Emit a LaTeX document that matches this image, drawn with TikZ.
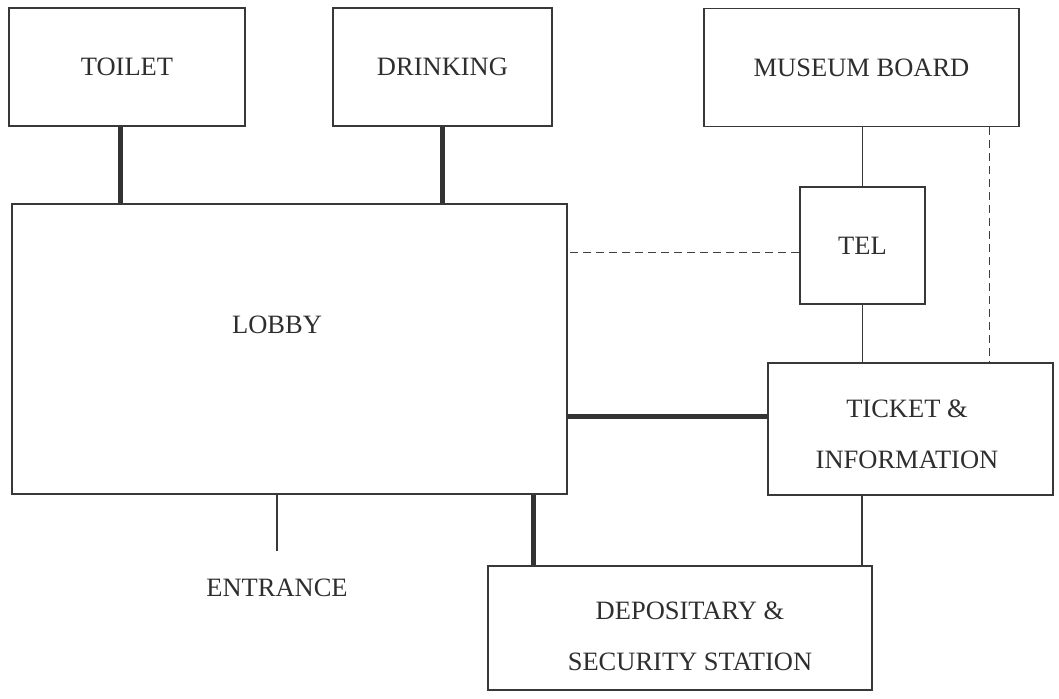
\documentclass[tikz,border=0pt]{standalone}
\usepackage{fontspec}
\setmainfont{Liberation Serif}
\begin{document}
\begin{tikzpicture}[x=1pt,y=-1pt,
  room/.style={draw=black!78, line width=1.1pt, fill=white, inner sep=0pt,
    text=black!82, align=center, font=\fontsize{26.5}{52}\selectfont},
  thin/.style={draw=black!78, line width=1.1pt},
  heavy/.style={draw=black!80, line width=5pt},
  dashline/.style={draw=black!75, line width=1pt, dash pattern=on 8pt off 5pt},
  caption/.style={text=black!82, inner sep=0pt, align=center,
    font=\fontsize{26.5}{51}\selectfont}]
\useasboundingbox (0,0) rectangle (1059,698);

% rooms
\node[room, minimum width=236pt, minimum height=118pt] (toilet)   at (127,67)    {TOILET};
\node[room, minimum width=219pt, minimum height=118pt] (drinking) at (442.5,67)  {DRINKING};
\node[room, minimum width=315pt, minimum height=118pt] (board)    at (861.5,67.5){MUSEUM BOARD};
\node[room, minimum width=125pt, minimum height=117pt] (tel)      at (862.5,245.5){TEL};
\node[room, minimum width=555pt, minimum height=290pt] (lobby)    at (289.5,349) {};
\node[room, minimum width=285pt, minimum height=132pt] (ticket)   at (910.5,429) {};
\node[room, minimum width=384pt, minimum height=124pt] (depot)    at (680,628)   {};

% labels
\node[caption] (lobbytext)  at (277,325) {LOBBY};
\node[caption] (tickettext) at (907,434) {TICKET \&\\INFORMATION};
\node[caption] (depottext)  at (690,636) {DEPOSITARY \&\\SECURITY STATION};
\node[caption] (entrance)   at (277,588) {ENTRANCE};

% attachment points
\coordinate (tl) at ([xshift=-7pt]toilet.south);
\coordinate (dr) at (drinking.south);
\coordinate (bd) at ([xshift=-30pt]board.south east);
\coordinate (dl) at ([yshift=-6.5pt]tel.west);
\coordinate (hl) at ([yshift=13pt]ticket.west);
\coordinate (dv) at ([xshift=-147pt]depot.north);
\coordinate (dt) at ([xshift=-48.5pt]ticket.south);
\coordinate (en) at ([yshift=28pt]entrance.north);

% heavy links
\draw[heavy] (tl) -- (tl |- lobby.north);
\draw[heavy] (dr) -- (dr |- lobby.north);
\draw[heavy] (hl) -- (hl -| lobby.east);
\draw[heavy] (dv) -- (dv |- lobby.south);

% thin links
\draw[thin] (tel.north) -- (tel.north |- board.south);
\draw[thin] (tel.south) -- (tel.south |- ticket.north);
\draw[thin] (dt) -- (dt |- depot.north);
\draw[thin] (en |- lobby.south) -- (en);

% dashed links
\draw[dashline] (bd) -- (bd |- ticket.north);
\draw[dashline] (dl) -- (dl -| lobby.east);
\end{tikzpicture}
\end{document}
